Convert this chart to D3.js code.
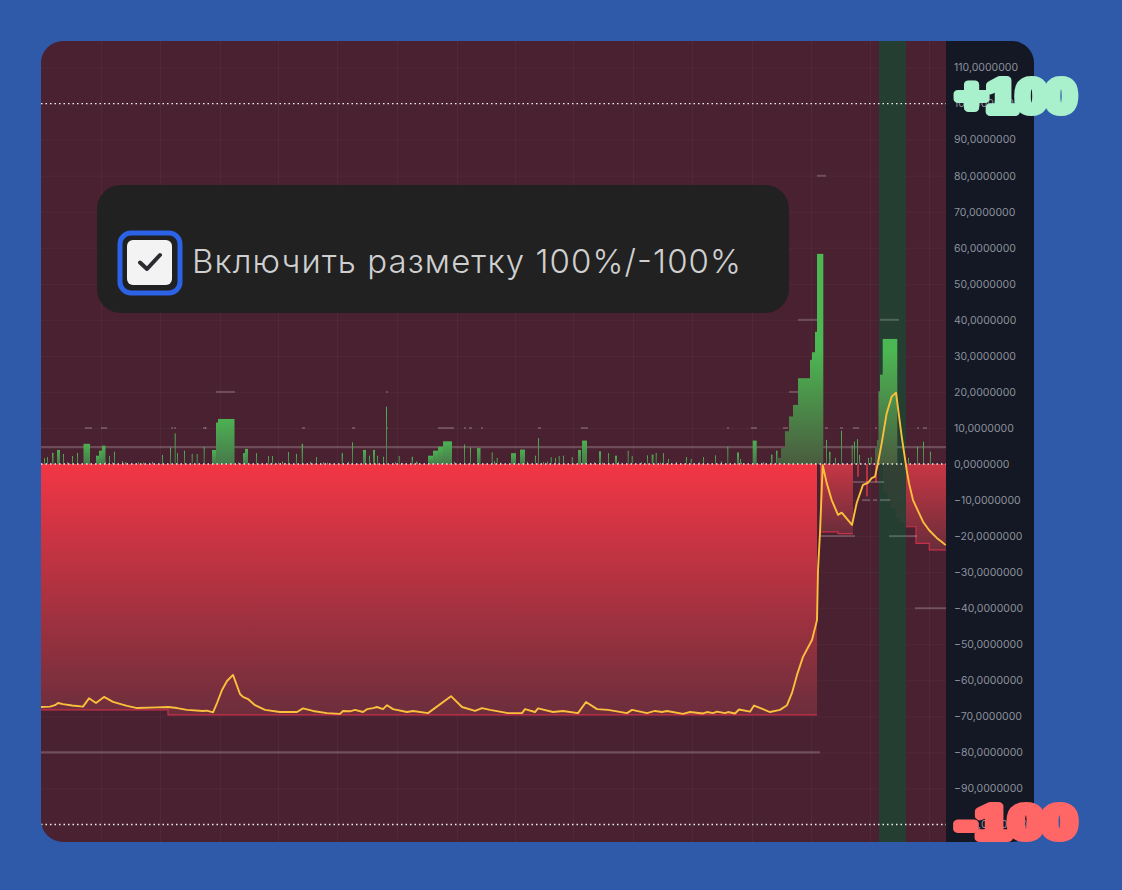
<!DOCTYPE html>
<html>
<head>
<meta charset="utf-8">
<script src="https://cdn.jsdelivr.net/npm/d3@7"></script>
<style>
  html, body { margin: 0; padding: 0; background: #2e5aa9; }
  svg { display: block; }
  text { font-family: Inter, "Noto Sans", sans-serif; }
</style>
</head>
<body>
<svg width="1122" height="890"></svg>
<script>
// y axis ticks
var tickValues = [110, 100, 90, 80, 70, 60, 50, 40, 30, 20, 10, 0, -10, -20, -30, -40, -50, -60, -70, -80, -90, -100];
// vertical grid, in bars
var gridBars = [60, 119, 179, 237, 296, 356, 416, 474, 532, 592, 651, 711, 770, 829, 888];

// short green spikes and small blocks: first bar, last bar, value
var spikeStart = [3, 6, 11, 16, 22, 31, 36, 42.5, 55, 58,
  61, 68, 73, 121, 129, 133.7, 136, 143, 150.7, 155.7,
  162.7, 171, 175, 177, 202, 204, 215, 227, 231, 247,
  255, 260.7, 275, 300.7, 311, 322, 328, 332, 336, 342,
  345, 357.7, 370.7, 387, 392, 397, 402, 423, 429, 436,
  450.7, 455.7, 470, 479, 494, 497, 509.7, 514, 517.7, 522,
  530.7, 537, 541, 558, 567, 574, 586.7, 590.7, 606, 610.7,
  614.7, 622, 627, 645, 649.7, 662, 674, 686.3, 696, 699,
  711.7, 730, 735, 785, 788, 794, 800, 810.7, 813, 816,
  818, 827, 829.7, 867, 876, 882, 889];
var spikeEnd = [4, 7, 12.5, 19, 23, 32, 37, 49, 58, 61,
  64.5, 69, 74, 122, 130, 134.7, 137, 144, 151.7, 156.7,
  163.7, 175, 177, 193.5, 204, 207, 216, 228, 232, 248,
  256, 262, 276, 302, 312, 325, 329, 334, 337, 343,
  346, 358.7, 372, 392, 397, 402, 411, 424, 430, 439.5,
  451.7, 456.7, 475, 484, 495, 498, 510.7, 515, 518.7, 523,
  531.7, 540, 546, 560, 568, 576, 587.7, 591.7, 607, 612.5,
  615.7, 623, 628, 646, 650.7, 663, 675, 687.3, 698, 700,
  715.7, 731.5, 736.5, 786, 789.5, 795, 801, 811.7, 814, 817,
  819, 828, 830.7, 868, 877, 883, 890];
var spikeValue = [1.6, 1.9, 3.1, 3.9, 2.8, 2.2, 3.1, 5.6, 2.3, 3.7,
  5.1, 2.2, 3.4, 2.5, 4.6, 8.5, 3, 3.7, 2.8, 2.8,
  4.8, 3.9, 11.5, 12.5, 3, 4.2, 3, 2.2, 2.2, 3.3,
  2.8, 5.6, 1.9, 3, 6, 3.9, 2.3, 3.9, 2.3, 2,
  15.9, 2.2, 2, 2.3, 3.7, 4.8, 6.3, 5.4, 4.6, 4.4,
  3.2, 1.7, 3, 4, 2.3, 7.2, 1.9, 1.7, 2.2, 2.3,
  1.9, 3.9, 6.5, 3.5, 3, 2.3, 3.7, 2.2, 2.4, 2.6,
  3.1, 3, 1.4, 1.9, 1.4, 1.9, 2.4, 4.8, 3.2, 1.4,
  6.5, 2.6, 3.7, 6.7, 3.4, 1.7, 9.2, 5.2, 6.2, 6.9,
  2.5, 1.7, 1.9, 1.7, 4.8, 6.2, 3.4];

// specks just above zero
var dustBars = [26, 64, 71, 81, 84, 86, 97, 102, 111, 197, 237, 241, 244, 269, 282, 286, 307, 354, 361, 375, 402, 376, 413, 419, 453, 459, 486, 502, 506, 514, 544, 549, 553, 561, 577, 600, 619, 635, 658, 680, 700, 722, 745, 760];
var dustValue = [0.5, 0.6, 0.4, 0.8, 0.5, 0.3, 0.5, 0.4, 0.6, 0.5, 0.4, 0.7, 0.3, 0.6, 0.5, 0.4, 0.6, 0.5, 0.3, 0.7, 0.5, 0.4, 0.6, 0.3, 0.8, 0.4, 0.6, 0.5, 0.7, 0.4, 0.6, 0.3, 0.5, 0.4, 0.6, 0.5, 0.4, 0.6, 0.5, 0.7, 0.4, 0.5, 0.6, 0.4];

// the two tall stepped green runs
var tallStart = [737, 740, 744, 748, 752, 757, 769, 771, 774, 776, 834, 836, 837.5, 839, 841.7];
var tallEnd = [740, 744, 748, 752, 757, 769, 771, 774, 776, 782, 836, 837.5, 839, 841.7, 856];
var tallValue = [1.7, 4.4, 9.1, 13.2, 16.4, 23.8, 28.9, 31, 36.7, 58.3, 4.4, 6.7, 19.8, 24.8, 34.7];

// red drawdown runs, step after
var mainBars = [0, 127, 776];
var mainValues = [-68.2, -69.6, -69.6];
var midBars = [779, 781, 797, 812];
var midValues = [-18.8, -18.8, -19.3, -19.3];
var sideBars = [842, 844, 847, 850.7, 855.7, 859, 864, 875, 888.3, 905];
var sideValues = [-7.2, -7.7, -10, -12, -14.6, -16, -17.4, -22, -23.8, -23.8];
var tinyStart = [816, 825, 834];
var tinyEnd = [818, 827, 836];
var tinyValue = [-3.5, -9, -5];

// yellow line
var lineBars = [0, 9, 14, 17, 22, 31, 42, 48, 55, 63,
  72, 86, 96, 116, 127, 136, 146, 162, 166, 172,
  176, 181, 186, 192, 199, 202, 207, 214, 224, 239,
  256, 262, 272, 286, 299, 302, 309, 314, 322, 326,
  332, 336, 342, 346, 352, 366, 372, 387, 410, 421,
  434, 441, 449, 467, 481, 484, 494, 497, 512, 522,
  537, 545, 556, 567, 586, 591, 606, 614, 621, 626,
  642, 649, 662, 666, 672, 676, 684, 687, 694, 698,
  709, 713, 729, 739, 746, 751, 756, 762, 771, 776,
  777, 779, 781.7, 785.7, 790.7, 797, 800.7, 811, 815.7, 822,
  827, 830.7, 834, 837, 840.7, 845.7, 850.7, 855, 860.7, 865.7,
  868, 872, 877, 882, 888, 895.7, 900, 904.7];
var lineValues = [-67.4, -67.3, -66.9, -66.3, -66.6, -67, -67.3, -65, -66.3, -64.6,
  -66, -67.1, -67.7, -67.5, -67.4, -67.7, -68.2, -68.5, -68.4, -68.9,
  -66.3, -62.7, -60.2, -58.5, -63.8, -64.6, -65.2, -66.9, -68.2, -68.8,
  -68.8, -67.8, -68.5, -69.1, -69.3, -68.5, -68.6, -68.2, -68.8, -68,
  -67.7, -67.4, -68, -66.9, -68, -68.8, -68.5, -69.1, -64.4, -67.4,
  -68.5, -67.7, -68.2, -69.1, -69.1, -68, -68.8, -67.8, -68.8, -68.5,
  -69.1, -66, -68, -68.2, -69.1, -68.2, -69.1, -68.5, -68.8, -68.5,
  -69.3, -68.8, -69.2, -68.8, -69.1, -68.7, -69.1, -68.8, -69.2, -68.1,
  -68.7, -67, -68.8, -68.2, -66.9, -63.5, -58.5, -53.5, -48.8, -43.3,
  -29.4, -19.1, -0.3, -5.3, -10, -14.1, -13.5, -16.9, -10.8, -5.8,
  -5.2, -3.9, -3.5, 0.3, 5.8, 14.1, 18.7, 19.8, 7.6, -1.7,
  -5.3, -10, -13, -16, -18.3, -20.5, -21.4, -22.5];

// long grey levels and short grey dashes
var longLevel = [4.7, -80];
var longStart = [0, 0];
var longEnd = [905, 779];
var dashLevel = [80, 40, 40, 20, 20, 20, 20, 10, 10, 10, 10, 10, 10, 10, 10, 10, 10, 10, 10, 10, 10, 10, 10, 10, 10, 10, 10, 10, 10, 10, 10, -5, -10, -10, -10, -20, -20, -40];
var dashStart = [776, 757, 839, 175, 345, 748, 837, 44, 60, 130, 162, 261, 311, 345, 397, 423, 428, 440, 497, 540, 686, 710, 742, 784, 799, 812, 834, 876, 882, 133, 164, 812, 821, 832, 839, 779, 848, 874];
var dashEnd = [785, 777, 858, 194, 347, 757, 839, 51, 66, 132, 165, 264, 314, 347, 413, 425, 431, 442, 500, 547, 688, 716, 747, 787, 802, 818, 836, 878, 886, 135, 165.5, 843, 829, 836, 849, 814, 876, 905];

// dotted reference lines
var refLevels = [100, 0, -100];
// green session band
var bandStart = 838, bandEnd = 865;

var title = 'Включить разметку 100%/-100%';
var plusLabel = '+100', minusLabel = '-100';

var svg = d3.select('svg'),
    panel = {left: 41, right: 1034, top: 41, bottom: 842},
    plotRight = 946;

var x = d3.scaleLinear().domain([0, 905]).range([panel.left, plotRight]),
    y = d3.scaleLinear().domain([110, -100]).range([67.5, 824.5]);

var defs = svg.append('defs');

function gradient(id, top, bottom, box) {
  var g = defs.append('linearGradient').attr('id', id)
      .attr('x1', 0).attr('x2', 0).attr('y1', 0).attr('y2', 1);
  if (box) {
    g.attr('gradientUnits', 'userSpaceOnUse')
     .attr('x1', 0).attr('x2', 0).attr('y1', box[0]).attr('y2', box[1]);
  }
  g.append('stop').attr('offset', 0).attr('stop-color', top);
  g.append('stop').attr('offset', 1).attr('stop-color', bottom);
}
gradient('redMain', '#f23645', '#6c2e3c');
gradient('redSide', '#c83644', '#6a2d3a');
gradient('greenSpike', '#4cb152', '#47794b');
gradient('greenTall', '#4cb853', '#4a5c3f', [y(32), y(0)]);

defs.append('clipPath').attr('id', 'panelClip')
  .append('rect')
    .attr('x', panel.left).attr('y', panel.top)
    .attr('width', panel.right - panel.left).attr('height', panel.bottom - panel.top)
    .attr('rx', 22);

var g = svg.append('g').attr('clip-path', 'url(#panelClip)');

// backgrounds
g.append('rect').attr('x', panel.left).attr('y', panel.top)
    .attr('width', plotRight - panel.left).attr('height', panel.bottom - panel.top)
    .attr('fill', '#4a2130');
g.append('rect').attr('x', plotRight).attr('y', panel.top)
    .attr('width', panel.right - plotRight).attr('height', panel.bottom - panel.top)
    .attr('fill', '#131824');

// grid through the axes
g.append('g')
    .attr('class', 'grid-x')
    .attr('transform', 'translate(0,' + panel.bottom + ')')
    .call(d3.axisBottom(x).tickValues(gridBars).tickSize(-(panel.bottom - panel.top)).tickFormat(''))
    .call(function(s) { s.select('.domain').remove(); })
    .selectAll('line').attr('stroke', '#fff').attr('stroke-opacity', 0.035);

g.append('g')
    .attr('class', 'grid-y')
    .attr('transform', 'translate(' + panel.left + ',0)')
    .call(d3.axisRight(y).tickValues(tickValues).tickSize(plotRight - panel.left).tickFormat(''))
    .call(function(s) { s.select('.domain').remove(); })
    .selectAll('line').attr('stroke', '#fff').attr('stroke-opacity', 0.035);

// red drawdown
var stepArea = d3.area().curve(d3.curveStepAfter)
    .x(function(d) { return x(d[0]); })
    .y0(y(0))
    .y1(function(d) { return y(d[1]); });
var stepLine = d3.line().curve(d3.curveStepAfter)
    .x(function(d) { return x(d[0]); })
    .y(function(d) { return y(d[1]); });

[[mainBars, mainValues, 'redMain'], [midBars, midValues, 'redSide'], [sideBars, sideValues, 'redSide']].forEach(function(run) {
  var pts = d3.zip(run[0], run[1]);
  g.append('path').attr('d', stepArea(pts)).attr('fill', 'url(#' + run[2] + ')');
  g.append('path').attr('d', stepLine(pts)).attr('fill', 'none')
      .attr('stroke', '#c9304a').attr('stroke-width', 1.2);
});

g.selectAll('.tiny')
  .data(tinyValue)
  .enter().append('rect')
    .attr('class', 'tiny')
    .attr('x', function(d, i) { return x(tinyStart[i]); })
    .attr('width', function(d, i) { return x(tinyEnd[i]) - x(tinyStart[i]); })
    .attr('y', y(0))
    .attr('height', function(d) { return y(d) - y(0); })
    .attr('fill', '#b5323f');

// session band
g.append('rect')
    .attr('x', x(bandStart)).attr('width', x(bandEnd) - x(bandStart))
    .attr('y', panel.top).attr('height', panel.bottom - panel.top)
    .attr('fill', '#1f4232').attr('fill-opacity', 0.88);

// grey levels
function levels(cls, lv, st, en, color, w) {
  g.selectAll('.' + cls)
    .data(lv)
    .enter().append('line')
      .attr('class', cls)
      .attr('x1', function(d, i) { return x(st[i]); })
      .attr('x2', function(d, i) { return x(en[i]); })
      .attr('y1', function(d) { return y(d); })
      .attr('y2', function(d) { return y(d); })
      .attr('stroke', color)
      .attr('stroke-width', w);
}
levels('long', longLevel, longStart, longEnd, 'rgba(255,255,255,0.2)', 2.4);
levels('dash', dashLevel, dashStart, dashEnd, 'rgba(255,255,255,0.2)', 2);

// green bars
g.selectAll('.spike')
  .data(spikeValue)
  .enter().append('rect')
    .attr('class', 'spike')
    .attr('x', function(d, i) { return x(spikeStart[i]); })
    .attr('width', function(d, i) { return x(spikeEnd[i]) - x(spikeStart[i]); })
    .attr('y', function(d) { return y(d); })
    .attr('height', function(d) { return y(0) - y(d); })
    .attr('fill', 'url(#greenSpike)');

g.selectAll('.dust')
  .data(dustValue)
  .enter().append('rect')
    .attr('class', 'dust')
    .attr('x', function(d, i) { return x(dustBars[i]); })
    .attr('width', 1)
    .attr('y', function(d) { return y(d); })
    .attr('height', function(d) { return y(0) - y(d); })
    .attr('fill', '#6f8f63');

g.selectAll('.tall')
  .data(tallValue)
  .enter().append('rect')
    .attr('class', 'tall')
    .attr('x', function(d, i) { return x(tallStart[i]); })
    .attr('width', function(d, i) { return x(tallEnd[i]) - x(tallStart[i]) + 0.3; })
    .attr('y', function(d) { return y(d); })
    .attr('height', function(d) { return y(0) - y(d); })
    .attr('fill', 'url(#greenTall)');

// dotted lines
g.selectAll('.ref')
  .data(refLevels)
  .enter().append('line')
    .attr('class', 'ref')
    .attr('x1', panel.left).attr('x2', plotRight)
    .attr('y1', function(d) { return y(d); })
    .attr('y2', function(d) { return y(d); })
    .attr('stroke', '#f0f0f0')
    .attr('stroke-width', 1.3)
    .attr('stroke-dasharray', '1.5 3');

// yellow line
g.append('path')
    .datum(d3.zip(lineBars, lineValues))
    .attr('d', d3.line()
      .x(function(d) { return x(d[0]); })
      .y(function(d) { return y(d[1]); }))
    .attr('fill', 'none')
    .attr('stroke', '#fbbf3c')
    .attr('stroke-width', 1.9)
    .attr('stroke-linejoin', 'round');

// price axis
var axis = g.append('g')
    .attr('class', 'axis')
    .attr('transform', 'translate(' + plotRight + ',0)')
    .call(d3.axisRight(y).tickValues(tickValues).tickSize(0).tickPadding(8)
      .tickFormat(function(d) { return (d < 0 ? '\u2212' : '') + Math.abs(d) + ',0000000'; }));
axis.select('.domain').remove();
axis.selectAll('text')
    .style('font-family', 'Inter, sans-serif')
    .style('font-size', '10.5px')
    .attr('fill', '#8d919c');

// checkbox overlay
svg.append('rect')
    .attr('x', 97).attr('y', 185).attr('width', 692).attr('height', 128).attr('rx', 24)
    .attr('fill', '#212121');
svg.append('rect')
    .attr('x', 120).attr('y', 233).attr('width', 60).attr('height', 60).attr('rx', 11)
    .attr('fill', 'none').attr('stroke', '#2b62e6').attr('stroke-width', 5);
svg.append('rect')
    .attr('x', 127).attr('y', 240).attr('width', 45).attr('height', 45).attr('rx', 6)
    .attr('fill', '#f3f3f3');
svg.append('path')
    .attr('d', 'M140 262.5 L147 269 L160 255')
    .attr('fill', 'none').attr('stroke', '#2b2b30').attr('stroke-width', 4)
    .attr('stroke-linecap', 'round').attr('stroke-linejoin', 'round');
svg.append('text')
    .attr('x', 192).attr('y', 273)
    .attr('textLength', 549)
    .attr('fill', '#cfcfcf')
    .style('font-size', '33px')
    .style('font-weight', 300)
    .text(title);

// big stickers
function sticker(txt, baseline, color) {
  svg.append('text')
      .attr('x', 956).attr('y', baseline)
      .attr('textLength', 120)
      .attr('lengthAdjust', 'spacingAndGlyphs')
      .attr('fill', color)
      .attr('stroke', color)
      .attr('stroke-width', 8)
      .attr('stroke-linejoin', 'round')
      .style('font-family', '"Liberation Sans", sans-serif')
      .style('font-weight', 700)
      .style('font-size', '46px')
      .text(txt);
}
sticker(plusLabel, 112, '#a9f0cc');
sticker(minusLabel, 838, '#ff6666');
</script>
</body>
</html>
